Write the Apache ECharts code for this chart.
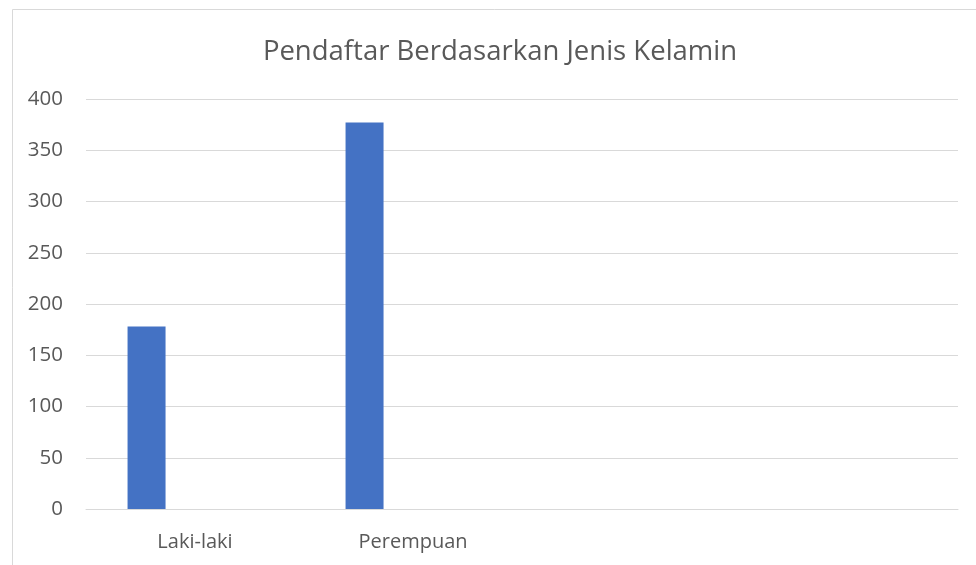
<!DOCTYPE html>
<html>
<head>
<meta charset="utf-8">
<script src="https://cdn.jsdelivr.net/npm/echarts@6/dist/echarts.min.js"></script>
<style>html,body{margin:0;padding:0;background:#fff}#c{width:976px;height:565px}</style>
</head>
<body>
<div id="c"></div>
<script>
const titleText = 'Pendaftar Berdasarkan Jenis Kelamin';
const categories = ['Laki-laki', 'Perempuan', '', ''];
const seriesValues = [178, 377, null, null];
const spacerValues = [null, null, null, null];
const yTicks = { min: 0, max: 400, interval: 50 };

const chart = echarts.init(document.getElementById('c'), null, { renderer: 'canvas' });
const font = '"Open Sans", "Noto Sans", sans-serif';
chart.setOption({
  backgroundColor: '#ffffff',
  animation: false,
  title: {
    text: titleText,
    left: 495, top: 33, textAlign: 'center',
    textStyle: { fontFamily: font, fontSize: 27.5, fontWeight: 'normal', color: '#595959' }
  },
  graphic: [{
    type: 'rect', left: 10, top: 7, silent: true,
    shape: { width: 1100, height: 700 },
    style: { fill: 'none', stroke: '#d9d9d9', lineWidth: 1 }
  }],
  grid: { left: 86, right: 18, top: 99, bottom: 56, containLabel: false },
  xAxis: {
    type: 'category', data: categories,
    axisLine: { show: true, lineStyle: { color: '#d9d9d9', width: 1 } },
    axisTick: { show: false },
    axisLabel: { fontFamily: font, fontSize: 20, color: '#595959', margin: 23 }
  },
  yAxis: {
    type: 'value', min: yTicks.min, max: yTicks.max, interval: yTicks.interval,
    axisLine: { show: false }, axisTick: { show: false },
    axisLabel: { fontFamily: font, fontSize: 20.5, color: '#595959', margin: 23 },
    splitLine: { lineStyle: { color: '#d9d9d9', width: 1 } }
  },
  series: [
    { type: 'bar', name: 'Jumlah', data: seriesValues, barWidth: 38, barGap: '155%',
      itemStyle: { color: '#4472c4' } },
    { type: 'bar', name: 'spacer', data: spacerValues, barWidth: 38,
      itemStyle: { color: '#ed7d31' } }
  ]
});
</script>
</body>
</html>
